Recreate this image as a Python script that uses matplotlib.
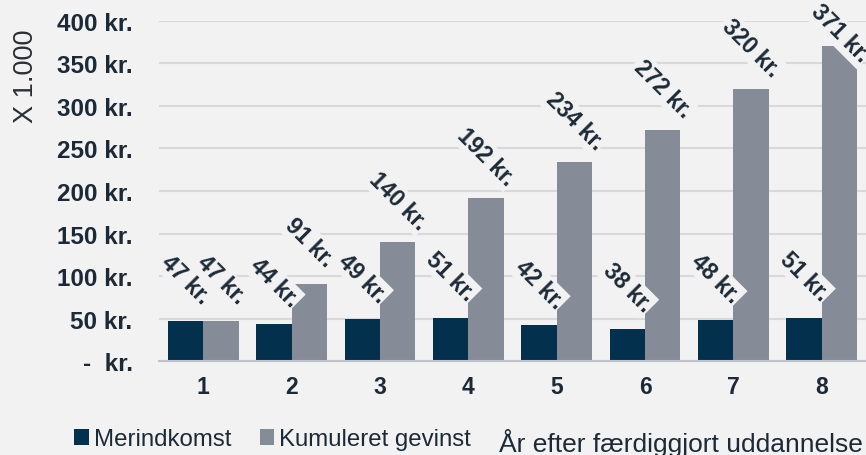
import numpy as np
import matplotlib
matplotlib.use("Agg")
import matplotlib.pyplot as plt

plt.rcParams["font.family"] = ["Liberation Sans", "DejaVu Sans"]

years = [1, 2, 3, 4, 5, 6, 7, 8]
merindkomst = [47, 44, 49, 51, 42, 38, 48, 51]
kumuleret = [47, 91, 140, 192, 234, 272, 320, 371]
yticks = [0, 50, 100, 150, 200, 250, 300, 350, 400]
ytick_labels = ["-  kr."] + [f"{v} kr." for v in yticks[1:]]

BG = "#f2f2f2"
DARK = "#03304d"
GRAY = "#858b97"
TXT = "#1c2a38"

fig = plt.figure(figsize=(8.66, 4.56), dpi=100, facecolor=BG)
ax = fig.add_axes([0.1836, 0.2061, 0.8164, 0.7457], facecolor=BG)

x = np.array(years, dtype=float)
w = 0.4
ax.bar(x - w / 2, merindkomst, width=w, color=DARK, label="Merindkomst", zorder=2)
ax.bar(x + w / 2, kumuleret, width=w, color=GRAY, label="Kumuleret gevinst", zorder=2)

# data labels, rotated, with background box; keep inside the figure top
for xs, vals in [(x - w / 2, merindkomst), (x + w / 2, kumuleret)]:
    for xi, v in zip(xs, vals):
        ly = min(v + 49, 386)
        ax.text(xi, ly, f"{v} kr.", rotation=-45, rotation_mode="anchor",
                ha="center", va="center", fontsize=16.5, fontweight="bold",
                color=TXT, zorder=4, clip_on=False,
                bbox=dict(facecolor=BG, edgecolor="none", pad=1.5))

ax.set_xlim(0.5, 8.5)
ax.set_ylim(0, 400)
ax.set_yticks(yticks)
ax.set_yticklabels(ytick_labels)
ax.set_xticks(x)
ax.set_xticklabels([str(y) for y in years])
ax.tick_params(axis="y", length=0, pad=19, labelsize=17.5, labelcolor=TXT)
ax.tick_params(axis="x", length=0, pad=10, labelsize=16.5, labelcolor=TXT)
for lab in ax.get_yticklabels() + ax.get_xticklabels():
    lab.set_fontweight("bold")

ax.grid(True, axis="y", color="#d9d9d9", linewidth=1.5, zorder=0)
ax.set_axisbelow(True)
for s in ["top", "right", "left"]:
    ax.spines[s].set_visible(False)
ax.spines["bottom"].set_color("#bfc3c9")
ax.spines["bottom"].set_linewidth(1.5)
ax.spines["bottom"].set_zorder(3)

fig.text(0.03, 0.832, "X 1.000", rotation=90, ha="center", va="center",
         fontsize=19.5, color="#2a2f36")

fig.legend(loc="center left", bbox_to_anchor=(0.086, 0.034), ncol=2, frameon=False,
           fontsize=17.3, handlelength=0.6, handleheight=0.6, handletextpad=0.2,
           columnspacing=1.2, labelcolor=TXT, borderaxespad=0, borderpad=0)

fig.text(0.996, 0.028, "År efter færdiggjort uddannelse", ha="right", va="center",
         fontsize=19, color=TXT)

fig.savefig("out.png", dpi=100, facecolor=BG)
